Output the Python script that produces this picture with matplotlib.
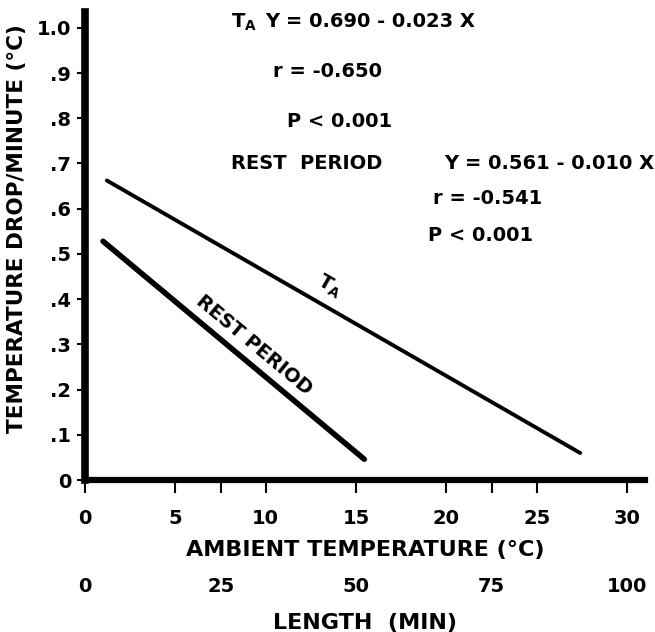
import matplotlib.pyplot as plt
import numpy as np

plt.rcParams['font.family'] = 'DejaVu Sans'
plt.rcParams['font.weight'] = 'bold'
plt.rcParams['axes.labelweight'] = 'bold'
plt.rcParams['mathtext.default'] = 'bf'

# regression lines: Y = a + b*X
ta_temp = np.array([1.2, 27.4])      # ambient temperature (C)
ta_a, ta_b = 0.690, -0.023
rest_len = np.array([3.3, 51.5])     # rest period length (min)
rest_a, rest_b = 0.561, -0.010

y_ticks = [0, 0.1, 0.2, 0.3, 0.4, 0.5, 0.6, 0.7, 0.8, 0.9, 1.0]
y_labels = ['0', '.1', '.2', '.3', '.4', '.5', '.6', '.7', '.8', '.9', '1.0']
temp_ticks = [0, 5, 10, 15, 20, 25, 30]
len_ticks = [0, 25, 50, 75, 100]

min_to_temp = lambda m: np.asarray(m) * 30 / 100
temp_to_min = lambda t: np.asarray(t) * 100 / 30

ta_y = ta_a + ta_b * ta_temp
rest_y = rest_a + rest_b * rest_len
rest_x = min_to_temp(rest_len)

fig = plt.figure(figsize=(6.55, 6.32), dpi=100)
ax = fig.add_axes([0.130, 0.2405, 0.855, 0.7405])

ax.plot(ta_temp, ta_y, color='black', lw=2.8, solid_capstyle='round')
ax.plot(rest_x, rest_y, color='black', lw=4.0, solid_capstyle='round')

ax.set_xlim(0, 31)
ax.set_ylim(0, 1.035)

for s in ['top', 'right']:
    ax.spines[s].set_visible(False)
ax.spines['left'].set_linewidth(5.5)
ax.spines['bottom'].set_linewidth(4.5)

ax.set_yticks(y_ticks)
ax.set_yticklabels(y_labels)
ax.set_xticks(temp_ticks)
ax.set_xticks(min_to_temp([25, 75]), minor=True)
ax.tick_params(axis='x', which='both', direction='out', length=9, width=1.5,
               pad=12, labelsize=14)
ax.tick_params(axis='y', direction='out', length=6, width=1.5, pad=4,
               labelsize=14)

ax.set_xlabel('AMBIENT TEMPERATURE (°C)', fontsize=16)
ax.xaxis.set_label_coords(0.5, -0.128)
ax.set_ylabel('TEMPERATURE DROP/MINUTE (°C)', fontsize=15.5)
ax.yaxis.set_label_coords(-0.104, 0.538)

sec = ax.secondary_xaxis(-0.207, functions=(temp_to_min, min_to_temp))
sec.set_xticks(len_ticks)
sec.spines['bottom'].set_visible(False)
sec.tick_params(length=0, pad=0, labelsize=14)
sec.set_xlabel('LENGTH  (MIN)', fontsize=16, labelpad=12)


def line_label(xs, ys, x, text, dist):
    # put text parallel to a line, dist points off it on the upper side
    p = ax.transData.transform(np.column_stack([xs, ys]))
    d = p[1] - p[0]
    ang = np.degrees(np.arctan2(d[1], d[0]))
    n = np.array([-d[1], d[0]]) / np.hypot(*d)
    y = np.interp(x, xs, ys)
    ax.annotate(text, xy=(x, y), xytext=(n[0] * dist, n[1] * dist),
                textcoords='offset points', fontsize=14, rotation=ang,
                ha='center', va='center', rotation_mode='anchor')


line_label(ta_temp, ta_y, 13.0, 'T$_A$', 14)
line_label(rest_x, rest_y, 8.74, 'REST PERIOD', 12.5)

# regression statistics
stat_kw = dict(fontsize=14, ha='left', va='center')
ax.text(8.07, 1.013, 'T$_A$', **stat_kw)
ax.text(9.96, 1.013, 'Y = 0.690 - 0.023 X', **stat_kw)
ax.text(10.4, 0.903, 'r = -0.650', **stat_kw)
ax.text(11.2, 0.792, 'P < 0.001', **stat_kw)
ax.text(8.1, 0.701, 'REST  PERIOD', **stat_kw)
ax.text(19.9, 0.701, 'Y = 0.561 - 0.010 X', **stat_kw)
ax.text(19.25, 0.622, 'r = -0.541', **stat_kw)
ax.text(19.0, 0.540, 'P < 0.001', **stat_kw)

fig.savefig('out.png', dpi=100)
